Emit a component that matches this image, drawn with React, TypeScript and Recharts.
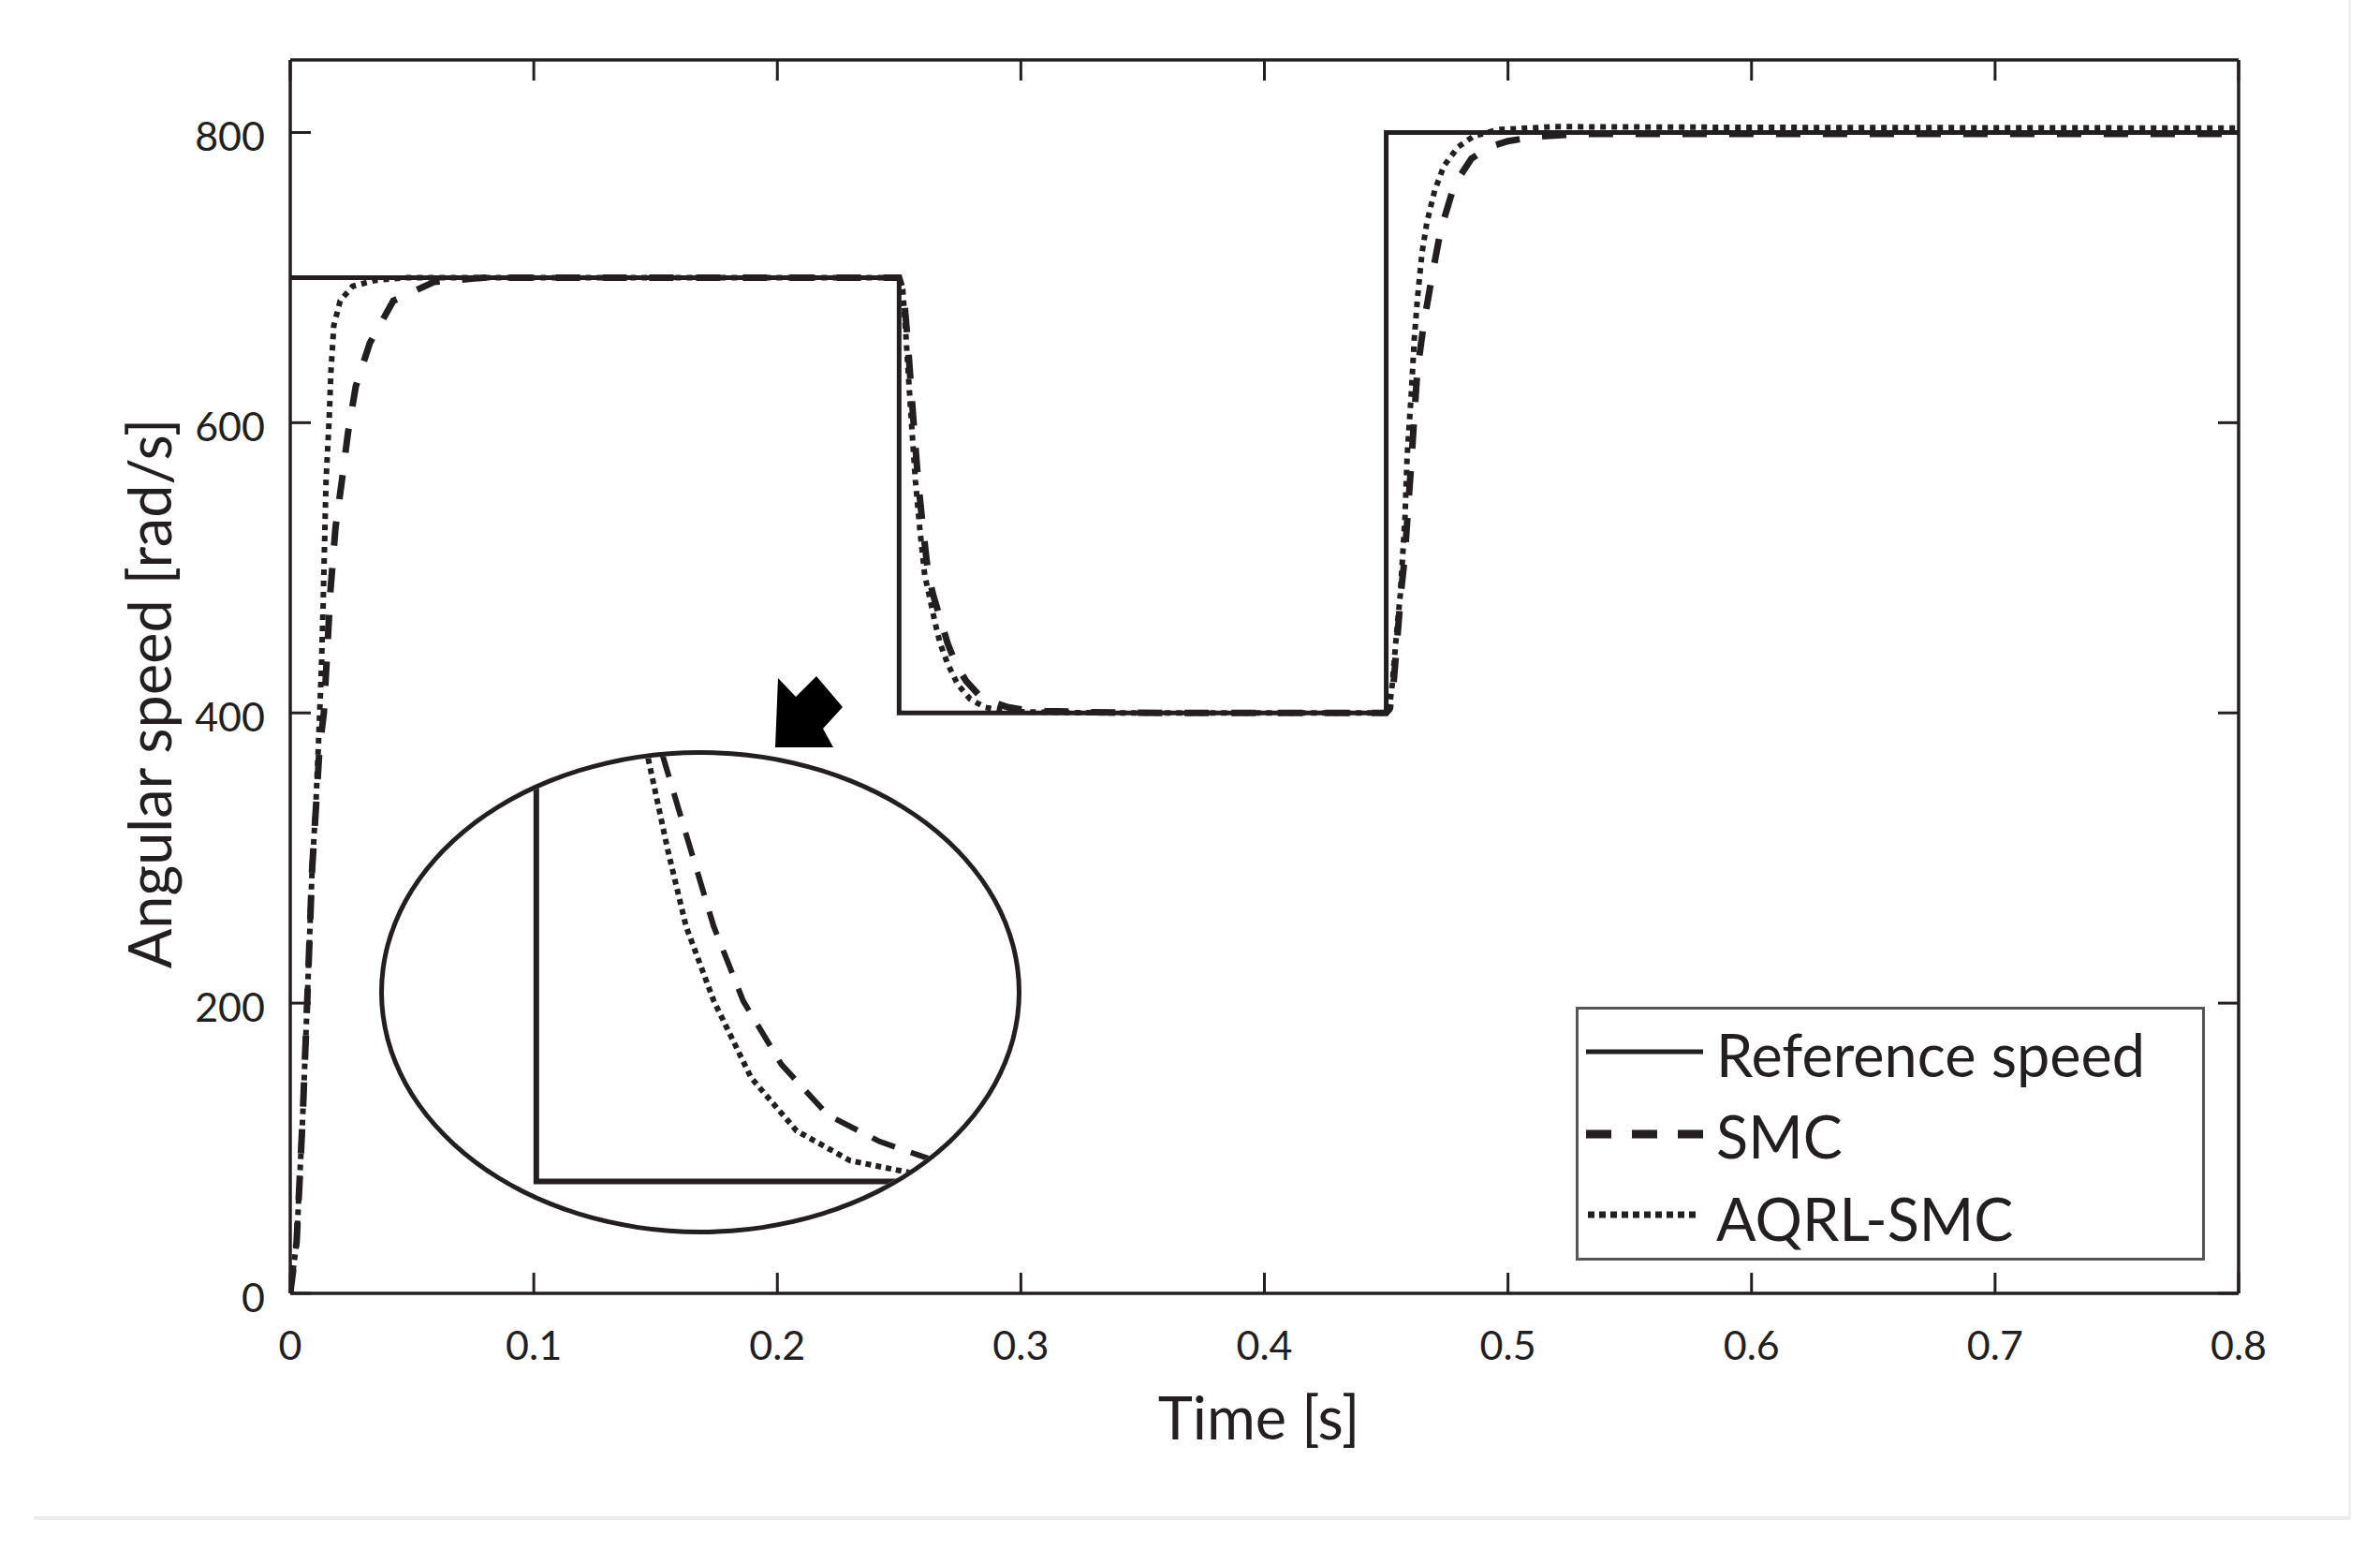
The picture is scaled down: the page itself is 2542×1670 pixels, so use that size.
import React from 'react';
import { LineChart, Line, XAxis, YAxis, Legend, Label } from 'recharts';

const INK = '#231f20';
const FONT = 'Lato, "Open Sans", sans-serif';

// reference speed (step profile)
const refTime = [0, 0.25, 0.25, 0.45, 0.45, 0.8];
const refSpeed = [700, 700, 400, 400, 800, 800];

// SMC response
const smcTime = [
  0, 0.0026, 0.0051, 0.0071, 0.009, 0.0106, 0.012, 0.0138, 0.0165, 0.0186, 0.0212, 0.0237, 0.0269, 0.0327,
  0.0423, 0.059, 0.0795, 0.25, 0.2518, 0.2535, 0.2549, 0.2563, 0.2578, 0.2598, 0.262, 0.2642, 0.2674,
  0.2699, 0.2732, 0.2775, 0.2827, 0.2885, 0.2945, 0.3, 0.31, 0.33, 0.36, 0.45, 0.4515,
  0.453, 0.4545, 0.456, 0.4577, 0.459, 0.4603, 0.4615, 0.4628, 0.4654, 0.4688, 0.4724, 0.478, 0.485,
  0.4923, 0.5, 0.5103, 0.53, 0.8,
];
const smcSpeed = [
  0, 35, 121, 207, 293, 336, 375, 400, 484, 528, 560, 593, 625, 655,
  684, 697, 700, 700, 690, 657, 624, 592, 560, 527, 495, 480, 462,
  448, 434, 422, 412.5, 407.5, 404, 402.5, 401.3, 400.5, 400, 400, 403,
  420, 450, 482, 509, 542, 572, 604, 636, 668, 701, 733, 764, 782,
  790, 794, 797, 799, 799,
];

// AQRL-SMC response
const aqrlTime = [
  0, 0.0026, 0.0051, 0.0071, 0.009, 0.0105, 0.0115, 0.0128, 0.0135, 0.0141, 0.0147, 0.016, 0.0167, 0.0179,
  0.0205, 0.0256, 0.0346, 0.0474, 0.25, 0.2515, 0.2528, 0.2541, 0.2554, 0.2567, 0.2585, 0.2605, 0.2625,
  0.2648, 0.2668, 0.2699, 0.2741, 0.2792, 0.2852, 0.292, 0.3, 0.32, 0.34, 0.45, 0.4512,
  0.4525, 0.454, 0.4558, 0.4577, 0.4586, 0.4603, 0.4615, 0.4628, 0.4647, 0.4667, 0.4699, 0.4737, 0.4795,
  0.4859, 0.4962, 0.5192, 0.6, 0.8,
];
const aqrlSpeed = [
  0, 35, 121, 207, 293, 336, 375, 431, 474, 517, 560, 603, 635, 667,
  684, 694, 698, 700, 700, 692, 660, 625, 592, 560, 527, 495, 480,
  462, 448, 434, 419.5, 409.5, 403.9, 401.6, 400.8, 400.2, 400, 400, 402,
  420, 450, 482, 534, 577, 620, 657, 685, 717, 738, 760, 777, 790,
  797.5, 802, 804, 803.5, 803,
];

const xTicks = [0, 0.1, 0.2, 0.3, 0.4, 0.5, 0.6, 0.7, 0.8];
const xTickLabels = ['0', '0.1', '0.2', '0.3', '0.4', '0.5', '0.6', '0.7', '0.8'];
const yTicks = [0, 200, 400, 600, 800];
const seriesNames = ['Reference speed', 'SMC', 'AQRL-SMC'];

// zoomed window shown in the elliptical inset
const insetTime = [0.2329, 0.3039];
const insetSpeed = [390.9, 480.3];

const toPoints = (ts: number[], vs: number[]) => ts.map((t, i) => ({ t, v: vs[i] }));
const refData = toPoints(refTime, refSpeed);
const smcData = toPoints(smcTime, smcSpeed);
const aqrlData = toPoints(aqrlTime, aqrlSpeed);

const TICK_LEN = 22;
const axisLine = { stroke: INK, strokeWidth: 3.5 };

const tickText = { fontFamily: FONT, fontSize: 43, fill: INK };

// axes are 1px thick (recharts skips 0-sized axes), ticks drawn inward by hand
const BottomTick = ({ x, y, payload }: any) => {
  const i = xTicks.indexOf(payload.value);
  return (
    <g>
      <line x1={x} y1={y} x2={x} y2={y - TICK_LEN} stroke={INK} strokeWidth={3} />
      <text x={x} y={y + 71} textAnchor="middle" {...tickText}>
        {i >= 0 ? xTickLabels[i] : payload.value}
      </text>
    </g>
  );
};

const TopTick = ({ x, y }: any) => (
  <line x1={x} y1={y} x2={x} y2={y + TICK_LEN} stroke={INK} strokeWidth={3} />
);

const LeftTick = ({ x, y, payload }: any) => (
  <g>
    <line x1={x} y1={y} x2={x + TICK_LEN} y2={y} stroke={INK} strokeWidth={3} />
    <text x={x - 27} y={y + 20} textAnchor="end" {...tickText}>
      {payload.value}
    </text>
  </g>
);

const RightTick = ({ x, y }: any) => (
  <line x1={x} y1={y} x2={x - TICK_LEN} y2={y} stroke={INK} strokeWidth={3} />
);

const labelText = { fontFamily: FONT, fontSize: 63, fill: INK };

const XTitle = ({ viewBox }: any) => (
  <text x={viewBox.x + viewBox.width / 2 - 6} y={viewBox.y + 156} textAnchor="middle" {...labelText}>
    Time [s]
  </text>
);

const YTitle = ({ viewBox }: any) => {
  const cx = viewBox.x + viewBox.width - 127;
  const cy = viewBox.y + viewBox.height / 2 + 18;
  return (
    <text x={cx} y={cy} textAnchor="middle" transform={`rotate(-90, ${cx}, ${cy})`} {...labelText}>
      Angular speed [rad/s]
    </text>
  );
};

const legendSamples = [
  { width: 5, dash: undefined, from: 1694, to: 1819 },
  { width: 9, dash: '27 22', from: 1694, to: 1819 },
  { width: 7, dash: '7 5', from: 1696, to: 1815 },
];

const LegendBox = () => {
  const left = 1683;
  const top = 1075;
  const rows = [1123, 1211, 1297];
  const baselines = [1150, 1237, 1325];
  return (
    <svg width={672} height={272} style={{ display: 'block' }}>
      <rect x={1.5} y={1.5} width={669} height={268} fill="#fff" stroke="#555" strokeWidth={3} />
      {seriesNames.map((name, i) => (
        <g key={name}>
          <line
            x1={legendSamples[i].from - left}
            x2={legendSamples[i].to - left}
            y1={rows[i] - top}
            y2={rows[i] - top}
            stroke={INK}
            strokeWidth={legendSamples[i].width}
            strokeDasharray={legendSamples[i].dash}
          />
          <text x={1833 - left} y={baselines[i] - top} {...labelText}>
            {name}
          </text>
        </g>
      ))}
    </svg>
  );
};

export default function App() {
  return (
    <div style={{ position: 'absolute', left: 0, top: 0, width: 2542, height: 1670, background: '#fff' }}>
      <LineChart width={2542} height={1670} margin={{ top: 63, right: 150, bottom: 288, left: 309 }}>
        <XAxis
          xAxisId="bottom"
          type="number"
          dataKey="t"
          domain={[0, 0.8]}
          ticks={xTicks}
          interval={0}
          height={1}
          tickSize={0}
          tickMargin={0}
          tickLine={false}
          axisLine={axisLine}
          tick={(p: any) => <BottomTick {...p} />}
          allowDataOverflow
        >
          <Label content={XTitle} />
        </XAxis>
        <XAxis
          xAxisId="top"
          orientation="top"
          type="number"
          dataKey="t"
          domain={[0, 0.8]}
          ticks={xTicks}
          interval={0}
          height={1}
          tickSize={0}
          tickMargin={0}
          tickLine={false}
          axisLine={axisLine}
          tick={(p: any) => <TopTick {...p} />}
          allowDataOverflow
        />
        <YAxis
          yAxisId="left"
          type="number"
          domain={[0, 850]}
          ticks={yTicks}
          interval={0}
          width={1}
          tickSize={0}
          tickMargin={0}
          tickLine={false}
          axisLine={axisLine}
          tick={(p: any) => <LeftTick {...p} />}
          allowDataOverflow
        >
          <Label content={YTitle} />
        </YAxis>
        <YAxis
          yAxisId="right"
          orientation="right"
          type="number"
          domain={[0, 850]}
          ticks={yTicks}
          interval={0}
          width={1}
          tickSize={0}
          tickMargin={0}
          tickLine={false}
          axisLine={axisLine}
          tick={(p: any) => <RightTick {...p} />}
          allowDataOverflow
        />
        <Line
          xAxisId="bottom"
          yAxisId="left"
          data={refData}
          dataKey="v"
          name={seriesNames[0]}
          stroke={INK}
          strokeWidth={5}
          dot={false}
          activeDot={false}
          isAnimationActive={false}
        />
        <Line
          xAxisId="bottom"
          yAxisId="left"
          data={smcData}
          dataKey="v"
          name={seriesNames[1]}
          stroke={INK}
          strokeWidth={7}
          strokeDasharray="26 24"
          dot={false}
          activeDot={false}
          isAnimationActive={false}
        />
        <Line
          xAxisId="bottom"
          yAxisId="left"
          data={aqrlData}
          dataKey="v"
          name={seriesNames[2]}
          stroke={INK}
          strokeWidth={6}
          strokeDasharray="6 6"
          dot={false}
          activeDot={false}
          isAnimationActive={false}
        />
        <Legend
          layout="vertical"
          align="center"
          verticalAlign="middle"
          content={() => <LegendBox />}
          wrapperStyle={{ left: 1683, top: 1075, width: 672, height: 272 }}
        />
      </LineChart>

      {/* magnified view of the 0.25 s step, clipped to an ellipse */}
      <div
        style={{
          position: 'absolute',
          left: 405,
          top: 801,
          width: 686,
          height: 517,
          border: `5px solid ${INK}`,
          borderRadius: '50%',
          overflow: 'hidden',
          boxSizing: 'border-box',
          background: '#fff',
        }}
      >
        <LineChart width={676} height={507} margin={{ top: 0, right: 0, bottom: 0, left: 0 }}>
          <XAxis type="number" dataKey="t" domain={insetTime} hide allowDataOverflow />
          <YAxis type="number" domain={insetSpeed} hide allowDataOverflow />
          <Line data={refData} dataKey="v" stroke={INK} strokeWidth={6} dot={false} activeDot={false} isAnimationActive={false} />
          <Line data={smcData} dataKey="v" stroke={INK} strokeWidth={6} strokeDasharray="26 18" dot={false} activeDot={false} isAnimationActive={false} />
          <Line data={aqrlData} dataKey="v" stroke={INK} strokeWidth={6} strokeDasharray="6 5" dot={false} activeDot={false} isAnimationActive={false} />
        </LineChart>
      </div>

      {/* pointer arrow towards the inset */}
      <svg width={2542} height={1670} style={{ position: 'absolute', left: 0, top: 0, pointerEvents: 'none' }}>
        <polygon points="831,724 850,744 872,722 900,755 879,778 890,798 828,798" fill="#000" />
      </svg>

      <div style={{ position: 'absolute', left: 36, top: 1619, width: 2474, height: 4, background: '#ececec' }} />
      <div style={{ position: 'absolute', left: 2508, top: 0, width: 3, height: 1621, background: '#f0f0f0' }} />
    </div>
  );
}
